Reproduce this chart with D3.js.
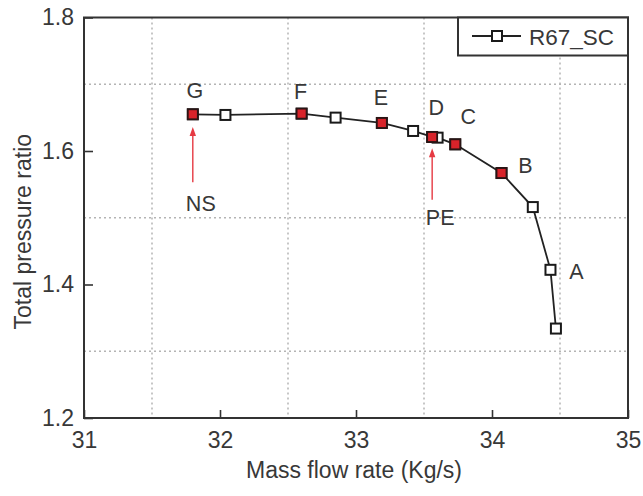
<!DOCTYPE html>
<html>
<head>
<meta charset="utf-8">
<script src="https://cdn.jsdelivr.net/npm/d3@7/dist/d3.min.js"></script>
<style>
  html, body { margin: 0; padding: 0; background: #fff; }
  svg { display: block; font-family: "Liberation Sans", Arial, sans-serif; }
</style>
</head>
<body>
<svg id="chart" width="643" height="496"></svg>
<script>
// Speedline of the R67_SC stage: mass flow rate vs total pressure ratio
const flowRate = [31.80, 32.04, 32.60, 32.85, 33.19, 33.42, 33.56, 33.60, 33.73, 34.07, 34.30, 34.43, 34.47];
const pressureRatio = [1.655, 1.654, 1.656, 1.650, 1.642, 1.630, 1.621, 1.620, 1.610, 1.567, 1.516, 1.422, 1.334];

// Operating points highlighted in red (indices into the series) and their letters
const opIndex = [0, 2, 4, 6, 8, 9];
const pointLetters = ["G", "F", "E", "D", "C", "B", "A"];
const letterIndex = [0, 2, 4, 6, 8, 9, 11];

// Annotated points: near stall and peak efficiency
const arrowNames = ["NS", "PE"];
const arrowFlow = [31.80, 33.56];
const arrowTail = [1.553, 1.527];
const arrowTip = [1.636, 1.604];

const xTicks = [31, 32, 33, 34, 35];
const yTicks = [1.2, 1.4, 1.6, 1.8];
const xGrid = [31.5, 32.5, 33.5, 34.5];
const yGrid = [1.3, 1.5, 1.7];
const seriesName = "R67_SC";

const svg = d3.select("#chart");
const L = 84, R = 628, T = 17.5, B = 418;

const x = d3.scaleLinear().domain([31, 35]).range([L, R]);
const y = d3.scaleLinear().domain([1.2, 1.8]).range([B, T]);

const textColor = "#383838";

// grid
const grid = svg.append("g");
grid.selectAll(".gx").data(xGrid).join("line")
  .attr("x1", d => x(d)).attr("x2", d => x(d)).attr("y1", T).attr("y2", B)
  .attr("stroke", "#b4b4b4").attr("stroke-width", 1.5).attr("stroke-dasharray", "2,3");
grid.selectAll(".gy").data(yGrid).join("line")
  .attr("y1", d => y(d)).attr("y2", d => y(d)).attr("x1", L).attr("x2", R)
  .attr("stroke", "#b4b4b4").attr("stroke-width", 1.5).attr("stroke-dasharray", "2,3");

// axes with inward ticks
const xAxis = svg.append("g").attr("transform", `translate(0,${B})`)
  .call(d3.axisBottom(x).tickValues(xTicks).tickSize(-8).tickPadding(14).tickFormat(d3.format("d")));
const yAxis = svg.append("g").attr("transform", `translate(${L},0)`)
  .call(d3.axisLeft(y).tickValues(yTicks).tickSize(-9).tickPadding(10).tickFormat(d3.format(".1f")));
[xAxis, yAxis].forEach(a => {
  a.select(".domain").remove();
  a.selectAll("line").attr("stroke", "#333").attr("stroke-width", 1.6);
  a.selectAll("text").attr("fill", textColor).attr("font-size", 23)
    .attr("font-family", "Liberation Sans, Arial, sans-serif");
});

// frame
svg.append("rect").attr("x", L).attr("y", T).attr("width", R - L).attr("height", B - T)
  .attr("fill", "none").attr("stroke", "#333").attr("stroke-width", 2);

// axis titles
svg.append("text").attr("x", (L + R) / 2 - 2).attr("y", 478).attr("text-anchor", "middle")
  .attr("font-size", 23).attr("fill", textColor).text("Mass flow rate (Kg/s)");
svg.append("text").attr("transform", `translate(31,${(T + B) / 2 + 14}) rotate(-90)`)
  .attr("text-anchor", "middle").attr("font-size", 23).attr("fill", textColor).text("Total pressure ratio");

// series line
const pts = flowRate.map((f, i) => [f, pressureRatio[i]]);
svg.append("path").datum(pts)
  .attr("d", d3.line().x(d => x(d[0])).y(d => y(d[1])))
  .attr("fill", "none").attr("stroke", "#222").attr("stroke-width", 1.8);

// hollow markers
const ms = 10;
svg.selectAll(".m").data(pts).join("rect")
  .attr("x", d => x(d[0]) - ms / 2).attr("y", d => y(d[1]) - ms / 2)
  .attr("width", ms).attr("height", ms)
  .attr("fill", "#fff").attr("stroke", "#1a1a1a").attr("stroke-width", 2);

// red operating points
svg.selectAll(".op").data(opIndex).join("rect")
  .attr("x", i => x(flowRate[i]) - ms / 2).attr("y", i => y(pressureRatio[i]) - ms / 2)
  .attr("width", ms).attr("height", ms)
  .attr("fill", "#d8232a").attr("stroke", "#2a1414").attr("stroke-width", 1.8);

// point letters
const letterOffset = [[2, -16], [-1, -15], [-1, -18], [4, -22], [13, -20], [24, 0], [26, 9]];
svg.selectAll(".lt").data(pointLetters).join("text")
  .attr("x", (d, k) => x(flowRate[letterIndex[k]]) + letterOffset[k][0])
  .attr("y", (d, k) => y(pressureRatio[letterIndex[k]]) + letterOffset[k][1])
  .attr("text-anchor", "middle").attr("font-size", 21.5).attr("fill", textColor).text(d => d);

// annotation arrows
const red = "#e63a43";
arrowNames.forEach((name, k) => {
  const ax = x(arrowFlow[k]), y0 = y(arrowTail[k]), y1 = y(arrowTip[k]);
  svg.append("line").attr("x1", ax).attr("x2", ax).attr("y1", y0).attr("y2", y1 + 6)
    .attr("stroke", red).attr("stroke-width", 1.4);
  svg.append("path")
    .attr("d", `M${ax},${y1} L${ax - 3.2},${y1 + 9} L${ax + 3.2},${y1 + 9} Z`)
    .attr("fill", red);
  svg.append("text").attr("x", ax + 8).attr("y", y0 + (k === 0 ? 29 : 25))
    .attr("text-anchor", "middle").attr("font-size", 21.5).attr("fill", textColor).text(name);
});

// legend
const lg = svg.append("g");
lg.append("rect").attr("x", 458).attr("y", T).attr("width", R - 458).attr("height", 38)
  .attr("fill", "#fff").attr("stroke", "#333").attr("stroke-width", 2);
lg.append("line").attr("x1", 472).attr("x2", 521).attr("y1", 36).attr("y2", 36)
  .attr("stroke", "#222").attr("stroke-width", 1.8);
lg.append("rect").attr("x", 497 - 5).attr("y", 36 - 5).attr("width", 10).attr("height", 10)
  .attr("fill", "#fff").attr("stroke", "#1a1a1a").attr("stroke-width", 2);
lg.append("text").attr("x", 529).attr("y", 44.5).attr("font-size", 22.5).attr("fill", textColor).text(seriesName);
</script>
</body>
</html>
